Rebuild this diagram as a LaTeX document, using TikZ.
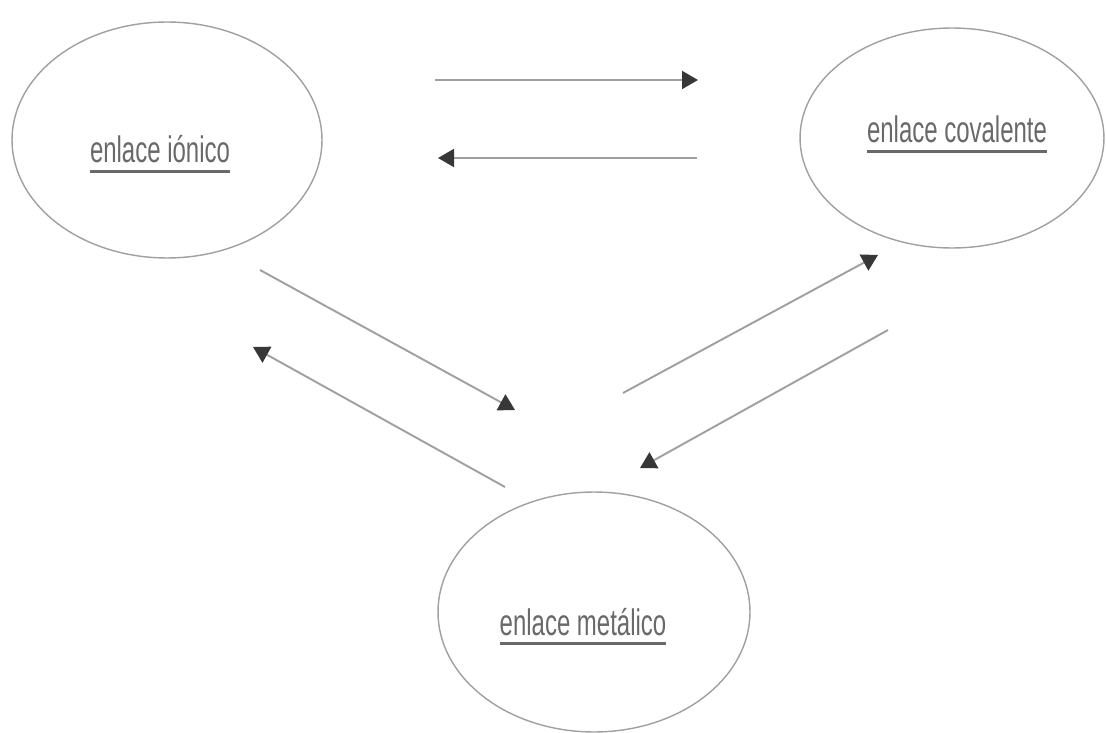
\documentclass[tikz,border=0pt]{standalone}
\usepackage{fontspec}
\usetikzlibrary{shapes.geometric,arrows.meta}
\newfontfamily\enlacefont[FakeStretch=0.65]{Liberation Sans}
\newcommand{\subrayar}[1]{\setbox0\hbox{#1}\rlap{\rule[-5.6pt]{\wd0}{1.6pt}}\box0}
\definecolor{linea}{RGB}{160,160,160}
\definecolor{texto}{RGB}{105,105,105}
\definecolor{punta}{RGB}{55,55,55}
\tikzset{
  enlace/.style={draw=linea, ellipse, line width=0.8pt, inner sep=0pt},
  rotulo/.style={anchor=base, inner sep=0pt, text=texto,
    font=\enlacefont\fontsize{21}{25}\selectfont},
  flecha/.style={draw=linea, line width=1.1pt,
    -{Triangle[length=0.32cm,width=0.36cm,color=punta]}}
}
\begin{document}
\begin{tikzpicture}[x=0.02cm,y=-0.02cm]
\useasboundingbox (0,0) rectangle (1106,733);
\node[enlace, minimum width=6.2cm, minimum height=4.72cm] (ionico) at (167,140) {};
\node[enlace, minimum width=6.08cm, minimum height=4.4cm] (covalente) at (952,138) {};
\node[enlace, minimum width=6.24cm, minimum height=4.8cm] (metalico) at (594,612) {};
\node[rotulo] (ionico-t) at (160,163) {\subrayar{enlace iónico}};
\node[rotulo] (covalente-t) at (957,143) {\subrayar{enlace covalente}};
\node[rotulo] (metalico-t) at (583,635) {\subrayar{enlace metálico}};
% extremos de las flechas
\coordinate (ic1) at (435,80);
\coordinate (ic2) at (698,80);
\coordinate (ci1) at (697,158);
\coordinate (ci2) at (438,158);
\coordinate (im1) at (260,270);
\coordinate (im2) at (515,410);
\coordinate (mi1) at (505,487);
\coordinate (mi2) at (253,347);
\coordinate (mc1) at (623,393);
\coordinate (mc2) at (878,255);
\coordinate (cm1) at (888,330);
\coordinate (cm2) at (640,468);
\path[flecha] (ic1) -- (ic2);
\path[flecha] (ci1) -- (ci2);
\path[flecha] (im1) -- (im2);
\path[flecha] (mi1) -- (mi2);
\path[flecha] (mc1) -- (mc2);
\path[flecha] (cm1) -- (cm2);
\end{tikzpicture}
\end{document}
